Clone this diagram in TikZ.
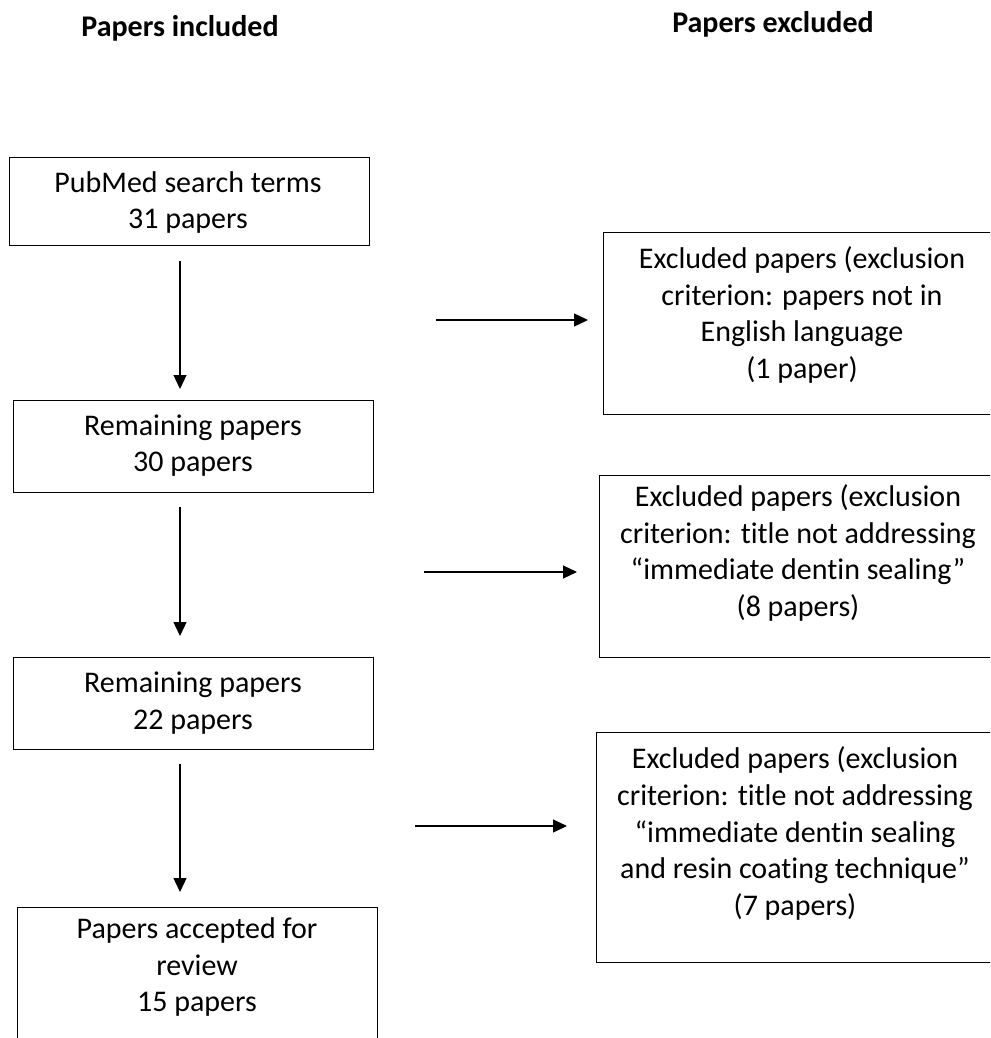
\documentclass[tikz,border=0pt]{standalone}
\usepackage{fontspec}
\setmainfont{Carlito}[Ligatures={NoCommon,NoContextual},Contextuals=NoAlternate,RawFeature={-liga;-calt}]
\usetikzlibrary{arrows.meta,calc}
\begin{document}
\begin{tikzpicture}[x=1pt,y=-1pt,
  box/.style={draw=black, line width=1.2pt, rectangle, anchor=north west, inner sep=0pt},
  txt/.style={align=center, inner sep=0pt, font=\fontsize{30pt}{36.6pt}\selectfont},
  head/.style={inner sep=0pt, font=\fontsize{30pt}{36pt}\selectfont\bfseries},
  arr/.style={line width=1.2pt, -{Triangle[length=14pt,width=13pt]}}]
\clip (0,0) rectangle (990,1038);
\fill[white] (0,0) rectangle (990,1038);
% headings
\node[head] (hin) at (180,28) {Papers included};
\node[head] (hex) at (773,24) {Papers excluded};
% left column boxes
\node[box, minimum width=360pt, minimum height=88pt] (b1) at (9,157) {};
\node[box, minimum width=360pt, minimum height=92pt] (b2) at (13,400) {};
\node[box, minimum width=360pt, minimum height=92pt] (b3) at (13,657) {};
\node[box, minimum width=360pt, minimum height=160pt] (b4) at (17,907) {};
\node[txt] (t1) at (188,202.5) {PubMed search terms\\31 papers};
\node[txt] (t2) at (193,445.5) {Remaining papers\\30 papers};
\node[txt] (t3) at (193,703) {Remaining papers\\22 papers};
\node[txt] (t4) at (197,967) {Papers accepted for\\review\\15 papers};
% right column boxes
\node[box, minimum width=400pt, minimum height=182pt] (e1) at (603,232) {};
\node[box, minimum width=400pt, minimum height=182pt] (e2) at (599,475) {};
\node[box, minimum width=400pt, minimum height=230pt] (e3) at (596,732) {};
\node[txt] (u1) at (802,315) {Excluded papers (exclusion\\criterion: papers not in\\English language\\(1 paper)};
\node[txt] (u2) at (798,553) {Excluded papers (exclusion\\criterion: title not addressing\\“immediate dentin sealing”\\(8 papers)};
\node[txt] (u3) at (795,833.5) {Excluded papers (exclusion\\criterion: title not addressing\\“immediate dentin sealing\\and resin coating technique”\\(7 papers)};
% vertical arrows
\coordinate (ax) at (180,0);
\draw[arr, shorten <=15pt, shorten >=11pt] (b1.south -| ax) -- (b2.north -| ax);
\draw[arr, shorten <=14pt, shorten >=21pt] (b2.south -| ax) -- (b3.north -| ax);
\draw[arr, shorten <=14pt, shorten >=15pt] (b3.south -| ax) -- (b4.north -| ax);
% horizontal arrows
\coordinate (h1) at (436,320);
\coordinate (h2) at (424,572);
\coordinate (h3) at (415,826);
\draw[arr, shorten >=15pt] (h1) -- (h1 -| e1.west);
\draw[arr, shorten >=22pt] (h2) -- (h2 -| e2.west);
\draw[arr, shorten >=29pt] (h3) -- (h3 -| e3.west);
\end{tikzpicture}
\end{document}
